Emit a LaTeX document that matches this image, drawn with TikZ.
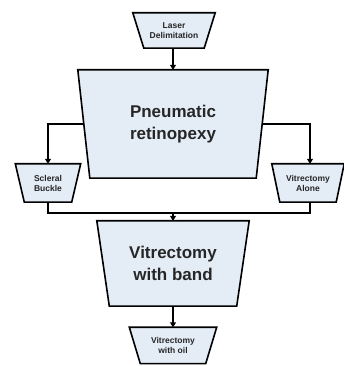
\documentclass[tikz,border=0pt]{standalone}
\usepackage{fontspec}
\setmainfont{Liberation Sans}
\usetikzlibrary{arrows.meta,backgrounds}
\definecolor{boxfill}{HTML}{E4ECF6}
% trapezium outline behind a node: name, inset of the lower corners
\newcommand\trapbox[2]{%
  \draw[boxline] (#1.north west) -- (#1.north east)
    -- ([xshift=-#2]#1.south east) -- ([xshift=#2]#1.south west) -- cycle;}
\begin{document}
\begin{tikzpicture}[x=1pt,y=1pt,
    steptext/.style={inner sep=0pt,align=center,text=black!85,
      font=\bfseries\fontsize{8.5}{10}\selectfont},
    bigtext/.style={steptext,font=\bfseries\fontsize{17}{22}\selectfont},
    boxline/.style={draw,line width=1.6pt,fill=boxfill,line join=miter},
    conn/.style={line width=1.6pt},
    tip/.style={conn,-{Triangle[width=6pt,length=5pt]}}]
        \useasboundingbox (0,0) rectangle (344,366);
        \node (laser) at (174,335.5) [steptext,minimum width=82,minimum height=35] {Laser\\Delimitation};
        \node (pneu) at (173,242) [bigtext,minimum width=190,minimum height=108] {Pneumatic\\retinopexy};
        \node (scl) at (48,183) [steptext,minimum width=65,minimum height=38] {Scleral\\Buckle};
        \node (alone) at (308,183) [steptext,minimum width=72,minimum height=38] {Vitrectomy\\Alone};
        \node (band) at (173,102.5) [bigtext,minimum width=152,minimum height=85] {Vitrectomy\\with band};
        \node (oil) at (173,20.5) [steptext,minimum width=87,minimum height=36] {Vitrectomy\\with oil};
        \coordinate (join) at (173,153);

        \begin{scope}[on background layer]
          \trapbox{laser}{11pt}
          \trapbox{pneu}{12pt}
          \trapbox{scl}{9pt}
          \trapbox{alone}{8pt}
          \trapbox{band}{12.5pt}
          \trapbox{oil}{11pt}
        \end{scope}

        \draw[tip] (laser.south -| pneu.north) -- (pneu.north);
        \draw[tip] ([xshift=6pt]pneu.west) -| (scl.north);
        \draw[tip] ([xshift=-6pt]pneu.east) -| ([xshift=2pt]alone.north);
        \draw[conn] (scl.south) |- (join) -| ([xshift=2pt]alone.south);
        \draw[tip] (join) -- (band.north);
        \draw[tip] (band) -- (oil);
      \end{tikzpicture}
\end{document}
